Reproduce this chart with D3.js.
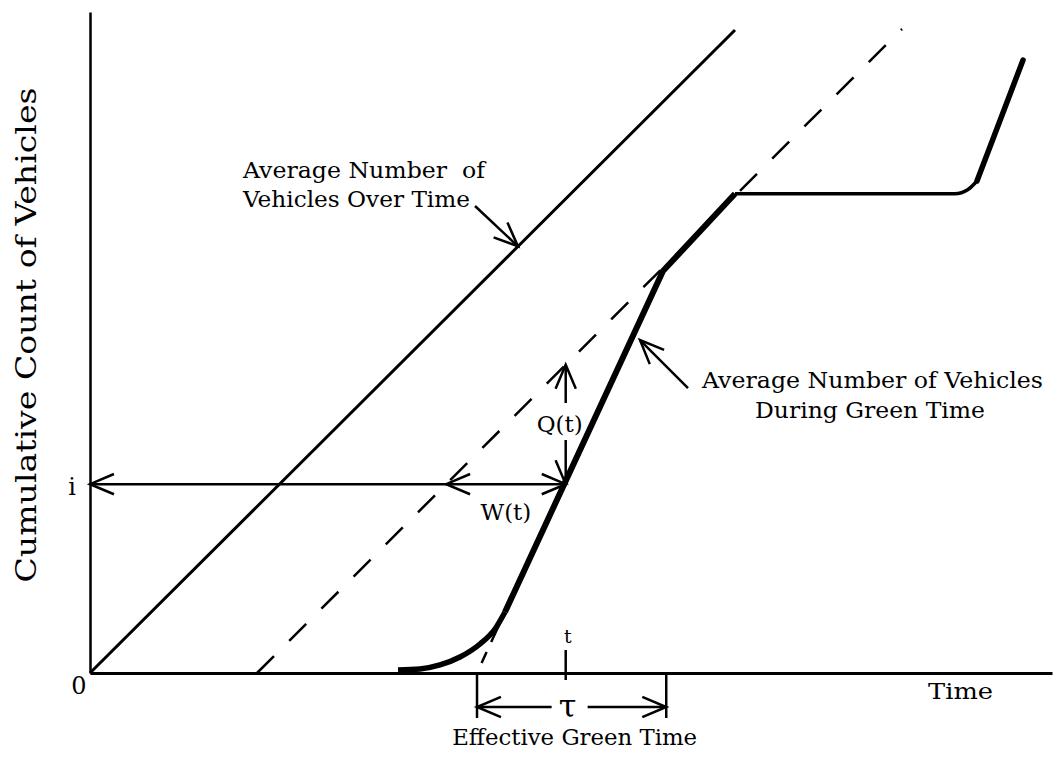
<!DOCTYPE html>
<html>
<head>
<meta charset="utf-8">
<script src="https://cdn.jsdelivr.net/npm/d3@7"></script>
<style>
  body { margin: 0; background: #fff; }
  svg { display: block; }
  text { font-family: "DejaVu Serif", serif; fill: #000; }
</style>
</head>
<body>
<script>
// chart units: time on x (0-100), cumulative vehicles on y (0-70)
const arrivals = [[0, 0], [67.05, 68.09]];          // average number of vehicles over time
const avgShifted = [[17.36, 0], [84.41, 68.2]];      // dashed reference line
const startup = [[32.02, 0.32], [34.3, 0.42], [36.38, 0.85], [38.46, 1.69], [40.54, 3.07], [42.1, 4.66], [43.14, 6.46]];
const saturated = [[43.14, 6.46], [59.56, 42.57], [67.05, 50.75]];
const idle = [[67.05, 50.75], [89.9, 50.75], [91.27, 51.2], [92.2, 52.1]];
const nextGreen = [[92.2, 52.1], [96.99, 64.92]];
const greenExt = [[40.23, 0], [43.14, 6.46]];       // dashed extension of the green slope
const greenStart = 40.23, greenEnd = 59.9;
const tVal = 49.45, iVal = 20;
const yLabels = [{v: 0, label: "0"}, {v: iVal, label: "i"}];

const width = 1054, height = 761;
const svg = d3.select("body").append("svg")
  .attr("width", width)
  .attr("height", height);

const x = d3.scaleLinear().domain([0, 100]).range([90, 1052]);
const y = d3.scaleLinear().domain([0, 70]).range([673, 12]);

const line = d3.line().x(d => x(d[0])).y(d => y(d[1]));

// value of a straight segment at a given x, and the reverse
function valAt(seg, xv){
  const [a, b] = seg;
  return a[1] + (xv - a[0]) * (b[1] - a[1]) / (b[0] - a[0]);
}
function timeAt(seg, yv){
  const [a, b] = seg;
  return a[0] + (yv - a[1]) * (b[0] - a[0]) / (b[1] - a[1]);
}

// open V arrow head pointing in direction of travel (x1,y1)->(x2,y2)
function head(g, x1, y1, x2, y2, w){
  const ang = Math.atan2(y2 - y1, x2 - x1), len = 26, spread = 0.4;
  const p1 = [x2 + len * Math.cos(ang + Math.PI - spread), y2 + len * Math.sin(ang + Math.PI - spread)];
  const p2 = [x2 + len * Math.cos(ang + Math.PI + spread), y2 + len * Math.sin(ang + Math.PI + spread)];
  g.append("path")
    .attr("d", d3.line()([p1, [x2, y2], p2]))
    .attr("fill", "none")
    .attr("stroke", "#000")
    .attr("stroke-width", w || 2.5);
}
function shaft(g, x1, y1, x2, y2, w){
  g.append("line")
    .attr("x1", x1).attr("y1", y1).attr("x2", x2).attr("y2", y2)
    .attr("stroke", "#000")
    .attr("stroke-width", w || 2.5);
}

// axes
const yAxis = d3.axisLeft(y).tickValues(yLabels.map(d => d.v)).tickSize(0)
  .tickFormat((d, i) => yLabels[i].label);
const gy = svg.append("g").attr("transform", "translate(" + x(0) + ",0)").call(yAxis);
gy.select(".domain").attr("stroke-width", 2.5);
gy.selectAll("text")
  .style("font-family", "DejaVu Serif")
  .style("font-size", "24px")
  .attr("text-anchor", "middle")
  .attr("x", d => d === 0 ? -11 : -18)
  .attr("dy", d => d === 0 ? "0.85em" : "0.45em");

const xAxis = d3.axisBottom(x).tickValues([]).tickSizeOuter(0);
const gx = svg.append("g").attr("transform", "translate(0," + y(0) + ")").call(xAxis);
gx.select(".domain").attr("stroke-width", 3);

// arrival lines
svg.append("path").datum(arrivals)
  .attr("d", line).attr("fill", "none").attr("stroke", "#000").attr("stroke-width", 3);

svg.append("path").datum(avgShifted)
  .attr("d", line).attr("fill", "none").attr("stroke", "#000").attr("stroke-width", 2.5)
  .attr("stroke-dasharray", "24,21.5");

svg.append("path").datum(greenExt)
  .attr("d", line).attr("fill", "none").attr("stroke", "#000").attr("stroke-width", 2.5)
  .attr("stroke-dasharray", "0,11,12,11,40");

// departure curve
svg.append("path").datum(startup)
  .attr("d", line.curve(d3.curveMonotoneX)).attr("fill", "none")
  .attr("stroke", "#000").attr("stroke-width", 5.5);
line.curve(d3.curveLinear);

svg.append("path").datum(saturated)
  .attr("d", line).attr("fill", "none").attr("stroke", "#000").attr("stroke-width", 6)
  .attr("stroke-linejoin", "round");

svg.append("path").datum(idle)
  .attr("d", line.curve(d3.curveMonotoneX)).attr("fill", "none")
  .attr("stroke", "#000").attr("stroke-width", 3.5);
line.curve(d3.curveLinear);

svg.append("path").datum(nextGreen)
  .attr("d", line).attr("fill", "none").attr("stroke", "#000").attr("stroke-width", 5.5)
  .attr("stroke-linecap", "round");

// Q(t) and W(t)
const ann = svg.append("g");
const xt = x(tVal), yi = y(iVal);
const yTop = y(valAt(avgShifted, tVal));
const xCross = x(timeAt(avgShifted, iVal));

shaft(ann, xt, 403, xt, yTop);
head(ann, xt, 403, xt, yTop);
shaft(ann, xt, 440, xt, yi);
head(ann, xt, 440, xt, yi);
ann.append("text").attr("x", xt - 6).attr("y", 432)
  .attr("text-anchor", "middle").style("font-size", "23px").text("Q(t)");

shaft(ann, x(0), yi, xt, yi);
head(ann, xt, yi, x(0), yi);
head(ann, xt, yi, xCross, yi);
head(ann, x(0), yi, xt, yi);
ann.append("text").attr("x", (xCross + xt) / 2).attr("y", yi + 36)
  .attr("text-anchor", "middle").style("font-size", "23px").text("W(t)");

// t marker
shaft(ann, xt, y(0) - 23, xt, y(0) + 7, 2.5);
ann.append("text").attr("x", xt + 2).attr("y", y(0) - 30)
  .attr("text-anchor", "middle").style("font-size", "19px").text("t");

// effective green time
const xg0 = x(greenStart), xg1 = x(greenEnd), ya = y(0) + 34, xm = (xg0 + xg1) / 2;
shaft(ann, xg0, y(0), xg0, y(0) + 45);
shaft(ann, xg1, y(0), xg1, y(0) + 45);
shaft(ann, xm - 20, ya, xg0, ya);
head(ann, xm - 20, ya, xg0, ya);
shaft(ann, xm + 16, ya, xg1, ya);
head(ann, xm + 16, ya, xg1, ya);
ann.append("text").attr("x", xm - 4).attr("y", ya + 10)
  .attr("text-anchor", "middle").style("font-size", "32px").text("τ");
ann.append("text").attr("x", xm + 3).attr("y", 745)
  .attr("text-anchor", "middle").style("font-size", "23px")
  .attr("textLength", 245).attr("lengthAdjust", "spacingAndGlyphs")
  .text("Effective Green Time");

// callouts
const tipA = [x(44.49), y(valAt(arrivals, 44.49))];
shaft(ann, 475, 206, tipA[0], tipA[1]);
head(ann, 475, 206, tipA[0], tipA[1]);
ann.append("text").attr("x", 243).attr("y", 178).style("font-size", "23px")
  .style("white-space", "pre")
  .attr("textLength", 242).attr("lengthAdjust", "spacingAndGlyphs")
  .text("Average Number  of");
ann.append("text").attr("x", 243).attr("y", 207).style("font-size", "23px")
  .attr("textLength", 227).attr("lengthAdjust", "spacingAndGlyphs")
  .text("Vehicles Over Time");

const ySat = 35.26;
const tipB = [x(timeAt(saturated, ySat)) + 9, y(ySat)];
shaft(ann, tipB[0] + 48, tipB[1] + 48, tipB[0], tipB[1]);
head(ann, tipB[0] + 48, tipB[1] + 48, tipB[0], tipB[1]);
ann.append("text").attr("x", 702).attr("y", 388).style("font-size", "23px")
  .attr("textLength", 341).attr("lengthAdjust", "spacingAndGlyphs")
  .text("Average Number of Vehicles");
ann.append("text").attr("x", 755).attr("y", 418).style("font-size", "23px")
  .attr("textLength", 230).attr("lengthAdjust", "spacingAndGlyphs")
  .text("During Green Time");

// axis titles
svg.append("text").attr("x", 928).attr("y", 699).style("font-size", "23px")
  .attr("textLength", 65).attr("lengthAdjust", "spacingAndGlyphs")
  .text("Time");

svg.append("text")
  .attr("transform", "translate(36,335) rotate(-90)")
  .attr("text-anchor", "middle").style("font-size", "27px")
  .attr("textLength", 495).attr("lengthAdjust", "spacingAndGlyphs")
  .text("Cumulative Count of Vehicles");
</script>
</body>
</html>
